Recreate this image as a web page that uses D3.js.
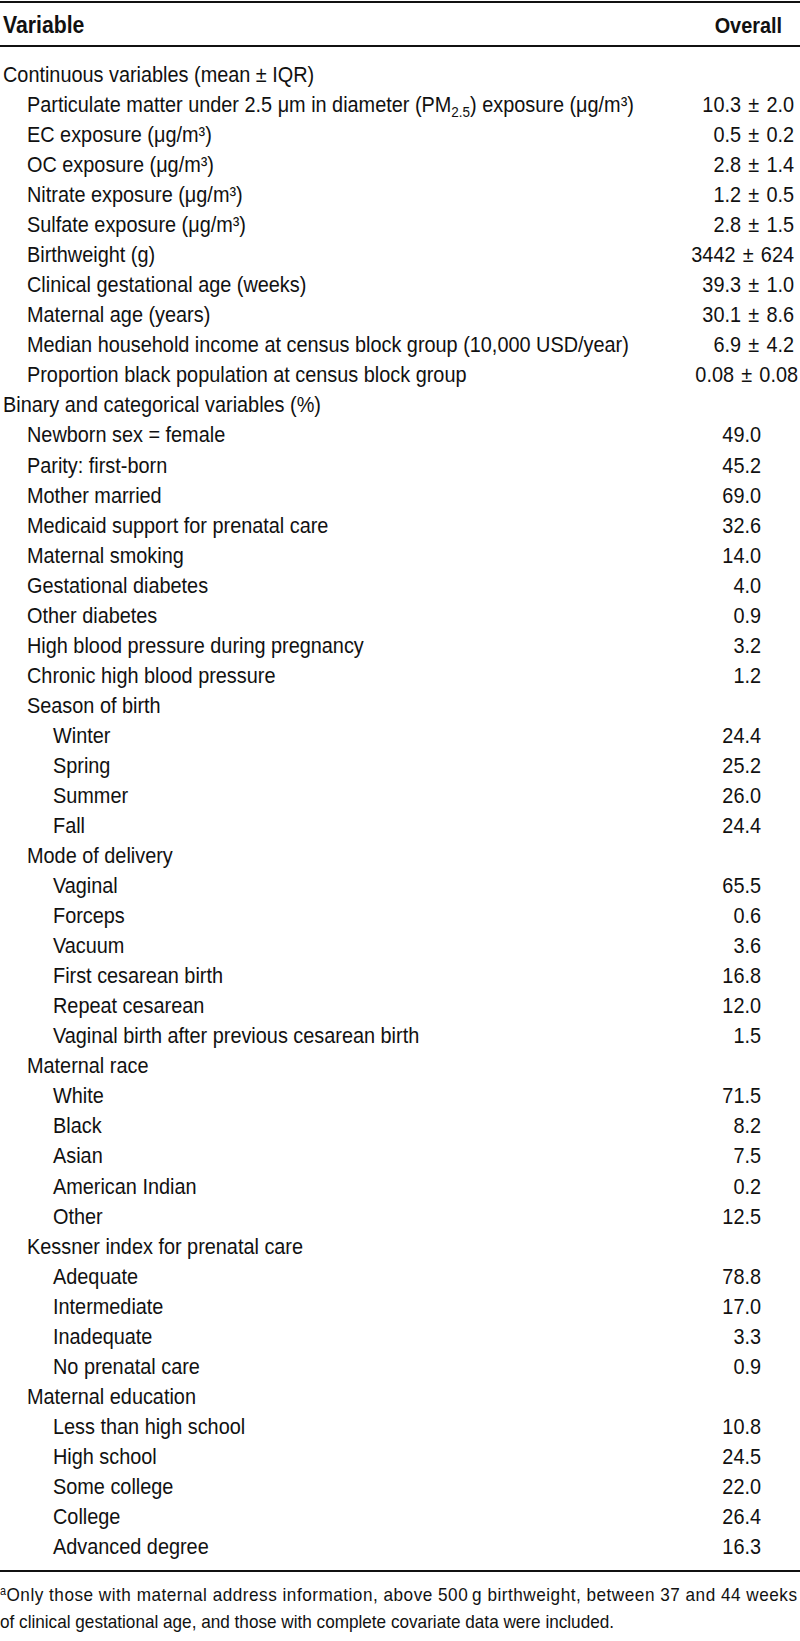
<!DOCTYPE html>
<html>
<head>
<meta charset="utf-8">
<script src="https://cdn.jsdelivr.net/npm/d3@7"></script>
<style>
  body { margin: 0; background: #fff; }
  svg text { font-family: 'Liberation Sans', Arial, sans-serif; fill: #111; }
</style>
</head>
<body>
<div id="graf"></div>
<script>
// Table data
headers = ['Variable', 'Overall']

labels = [
  'Continuous variables (mean ± IQR)',
  'Particulate matter under 2.5 μm in diameter (PM|2.5|) exposure (μg/m³)',
  'EC exposure (μg/m³)',
  'OC exposure (μg/m³)',
  'Nitrate exposure (μg/m³)',
  'Sulfate exposure (μg/m³)',
  'Birthweight (g)',
  'Clinical gestational age (weeks)',
  'Maternal age (years)',
  'Median household income at census block group (10,000 USD/year)',
  'Proportion black population at census block group',
  'Binary and categorical variables (%)',
  'Newborn sex = female',
  'Parity: first-born',
  'Mother married',
  'Medicaid support for prenatal care',
  'Maternal smoking',
  'Gestational diabetes',
  'Other diabetes',
  'High blood pressure during pregnancy',
  'Chronic high blood pressure',
  'Season of birth',
  'Winter', 'Spring', 'Summer', 'Fall',
  'Mode of delivery',
  'Vaginal', 'Forceps', 'Vacuum', 'First cesarean birth', 'Repeat cesarean',
  'Vaginal birth after previous cesarean birth',
  'Maternal race',
  'White', 'Black', 'Asian', 'American Indian', 'Other',
  'Kessner index for prenatal care',
  'Adequate', 'Intermediate', 'Inadequate', 'No prenatal care',
  'Maternal education',
  'Less than high school', 'High school', 'Some college', 'College', 'Advanced degree'
]

// indentation level of each row
levels = [0, 1, 1, 1, 1, 1, 1, 1, 1, 1, 1,
          0, 1, 1, 1, 1, 1, 1, 1, 1, 1,
          1, 2, 2, 2, 2,
          1, 2, 2, 2, 2, 2, 2,
          1, 2, 2, 2, 2, 2,
          1, 2, 2, 2, 2,
          1, 2, 2, 2, 2, 2]

// continuous rows: mean and IQR
means = ['', '10.3', '0.5', '2.8', '1.2', '2.8', '3442', '39.3', '30.1', '6.9', '0.08']
iqrs  = ['', '2.0', '0.2', '1.4', '0.5', '1.5', '624', '1.0', '8.6', '4.2', '0.08']

// categorical rows: percentages
percents = ['', '49.0', '45.2', '69.0', '32.6', '14.0', '4.0', '0.9', '3.2', '1.2',
            '', '24.4', '25.2', '26.0', '24.4',
            '', '65.5', '0.6', '3.6', '16.8', '12.0', '1.5',
            '', '71.5', '8.2', '7.5', '0.2', '12.5',
            '', '78.8', '17.0', '3.3', '0.9',
            '', '10.8', '24.5', '22.0', '26.4', '16.3']

footnote = [
  'Only those with maternal address information, above 500\u2009g birthweight, between 37 and 44 weeks',
  'of clinical gestational age, and those with complete covariate data were included.'
]

// Layout
ancho = 800
alto = 1641

svg = d3.select('#graf').append('svg')
        .attr('width', ancho)
        .attr('height', alto)

fontsize = 22

// the original uses a condensed face: measure the widest label and squeeze the text horizontally
prueba = svg.append('text').attr('font-size', `${fontsize}px`).text(labels[1].replace(/\|/g, ''))
anchoNatural = prueba.node().getComputedTextLength()
prueba.remove()
sx = 616 / anchoNatural

function texto(xx, yy) {
  return svg.append('text')
            .attr('transform', `translate(${xx},${yy}) scale(${sx},1)`)
            .attr('font-size', `${fontsize}px`)
}

// rows
dataArray = labels.map((d, i) => {
  let valor = ''
  if (i < means.length) {
    valor = means[i]
  } else {
    valor = percents[i - means.length]
  }
  return { i: i, label: d, level: levels[i], valor: valor, iqr: iqrs[i] || '', continuo: i < means.length }
})

y = d3.scaleLinear()
      .domain([0, labels.length - 1])
      .range([82, 1554])

x = d3.scaleOrdinal()
      .domain([0, 1, 2])
      .range([3, 27, 53])

// horizontal rules
reglas = [{ y: 2, w: 2 }, { y: 46, w: 2 }, { y: 1571, w: 2 }]
svg.selectAll('line.regla')
   .data(reglas)
   .enter()
   .append('line')
     .attr('class', 'regla')
     .attr('x1', 0)
     .attr('x2', ancho)
     .attr('y1', d => d.y)
     .attr('y2', d => d.y)
     .attr('stroke', '#111')
     .attr('stroke-width', d => d.w)

// header
texto(3, 33).attr('font-weight', 'bold').attr('font-size', '23.5px').text(headers[0])
texto(782, 33).attr('font-weight', 'bold').attr('text-anchor', 'end').text(headers[1])

// labels (PM2.5 subscript written between pipes)
filas = svg.selectAll('text.label')
           .data(dataArray)
           .enter()
           .append('text')
             .attr('class', 'label')
             .attr('transform', d => `translate(${x(d.level)},${y(d.i)}) scale(${sx},1)`)
             .attr('font-size', `${fontsize}px`)

filas.each(function(d) {
  partes = d.label.split('|')
  partes.forEach((p, k) => {
    t = d3.select(this).append('tspan').text(p)
    if (k % 2 == 1) {
      t.attr('font-size', `${fontsize * 0.68}px`).attr('dy', 5)
    } else if (k > 0) {
      t.attr('dy', -5)
    }
  })
})

// values (mean ± IQR gets wider gaps around the sign)
valores = svg.selectAll('text.valor')
   .data(dataArray.filter(d => d.valor))
   .enter()
   .append('text')
     .attr('class', 'valor')
     .attr('transform', d => `translate(${d.continuo ? (d.i == 10 ? 798 : 794) : 761},${y(d.i)}) scale(${sx},1)`)
     .attr('text-anchor', 'end')
     .attr('font-size', `${fontsize}px`)

valores.append('tspan').text(d => d.valor)
valores.filter(d => d.continuo)
       .append('tspan').attr('dx', 8).text('±')
valores.filter(d => d.continuo)
       .append('tspan').attr('dx', 8).text(d => d.iqr)

// footnote
nota = texto(0, 1601).attr('font-size', '19px')
          .attr('textLength', 797 / sx)
          .attr('lengthAdjust', 'spacing')
nota.append('tspan').attr('font-size', '12px').attr('dy', -6).text('a')
nota.append('tspan').attr('dy', 6).text(footnote[0])

texto(0, 1628).attr('font-size', '19px').text(footnote[1])
</script>
</body>
</html>
